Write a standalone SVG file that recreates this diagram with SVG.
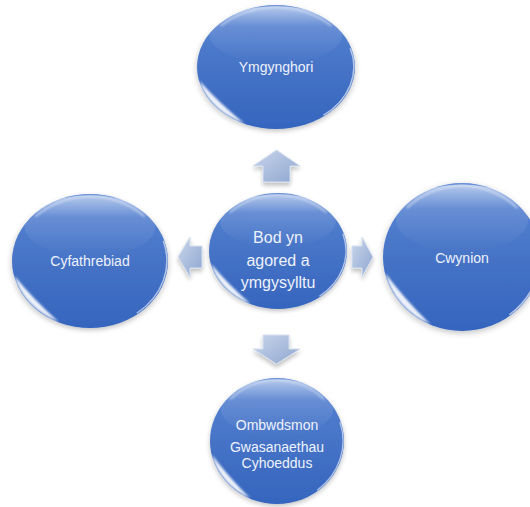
<svg xmlns="http://www.w3.org/2000/svg" width="530" height="507" viewBox="0 0 530 507">
<style>
.lbl{font-family:"Liberation Sans",Arial,sans-serif;fill:#eef2fb;text-anchor:middle}
.out{font-size:14px}
.ctr{font-size:16px}
.arr{fill:url(#arrGrad);stroke:#d6e0f0;stroke-width:1;filter:url(#arrSh)}
</style>
<defs>
<linearGradient id="ballGrad" x1="0" y1="0" x2="0" y2="1">
<stop offset="0" stop-color="#5a86d4"/>
<stop offset="0.5" stop-color="#4673c6"/>
<stop offset="1" stop-color="#3565be"/>
</linearGradient>
<linearGradient id="topHi" x1="0" y1="0" x2="0" y2="1">
<stop offset="0" stop-color="#ffffff" stop-opacity="0.55"/>
<stop offset="0.35" stop-color="#ffffff" stop-opacity="0.12"/>
<stop offset="1" stop-color="#ffffff" stop-opacity="0"/>
</linearGradient>
<linearGradient id="arrGrad" x1="0" y1="0" x2="1" y2="1">
<stop offset="0" stop-color="#c9d6ec"/>
<stop offset="1" stop-color="#8ea6cf"/>
</linearGradient>
<filter id="blur" x="-20%" y="-20%" width="140%" height="140%"><feGaussianBlur stdDeviation="1.5"/></filter>
<filter id="sh" x="-20%" y="-20%" width="140%" height="150%"><feGaussianBlur in="SourceAlpha" stdDeviation="4"/><feOffset dy="3"/><feComponentTransfer><feFuncA type="linear" slope="0.25"/></feComponentTransfer><feMerge><feMergeNode/><feMergeNode in="SourceGraphic"/></feMerge></filter>
<filter id="arrSh" x="-30%" y="-30%" width="160%" height="170%"><feGaussianBlur in="SourceAlpha" stdDeviation="2"/><feOffset dy="3"/><feComponentTransfer><feFuncA type="linear" slope="0.25"/></feComponentTransfer><feMerge><feMergeNode/><feMergeNode in="SourceGraphic"/></feMerge></filter>
<g id="ball">
<ellipse cx="0" cy="0" rx="100" ry="100" fill="url(#ballGrad)" filter="url(#sh)"/>
<ellipse cx="0" cy="-52" rx="84" ry="46" fill="url(#topHi)"/>
<path d="M-70,-66 A96,96 0 0 1 70,-66" fill="none" stroke="#ffffff" stroke-opacity="0.5" stroke-width="2.5" filter="url(#blur)"/>
<path d="M-97,22 A100,100 0 0 0 -40,91 Q-72,58 -97,22 Z" fill="#ffffff" fill-opacity="0.9" filter="url(#blur)"/>
<path d="M94,-30 A99,99 0 0 1 60,78" fill="none" stroke="#dfe8f8" stroke-opacity="0.7" stroke-width="2"/>
</g>
</defs>
<g id="connectors">
<path class="arr" d="M276.5,150 L300,166 L290,166 L290,182 L263,182 L263,166 L253,166 Z"/>
<path class="arr" d="M263,335 L289,335 L289,349 L300,349 L276.5,364 L253,349 L263,349 Z"/>
<path class="arr" d="M178,257 L190,237 L190,246 L202,246 L202,268 L190,268 L190,277 Z"/>
<path class="arr" d="M373,257 L362,237 L362,246 L352,246 L352,268 L362,268 L362,277 Z"/>
</g>
<g id="node-top">
<use href="#ball" transform="translate(276,67) scale(0.79,0.62)"/>
<text class="lbl out" x="276" y="72">Ymgynghori</text>
</g>
<g id="node-left">
<use href="#ball" transform="translate(90,261) scale(0.78,0.67)"/>
<text class="lbl out" x="90" y="266">Cyfathrebiad</text>
</g>
<g id="node-right">
<use href="#ball" transform="translate(462,257) scale(0.79,0.74)"/>
<text class="lbl out" x="462" y="263">Cwynion</text>
</g>
<g id="node-bottom">
<use href="#ball" transform="translate(277,441) scale(0.67,0.63)"/>
<text class="lbl out" x="277" y="430">Ombwdsmon</text>
<text class="lbl out" x="277" y="452">Gwasanaethau</text>
<text class="lbl out" x="277" y="468">Cyhoeddus</text>
</g>
<g id="node-center">
<use href="#ball" transform="translate(278,251) scale(0.69,0.58)"/>
<text class="lbl ctr" x="278" y="243">Bod yn</text>
<text class="lbl ctr" x="278" y="266">agored a</text>
<text class="lbl ctr" x="278" y="288">ymgysylltu</text>
</g>
</svg>
